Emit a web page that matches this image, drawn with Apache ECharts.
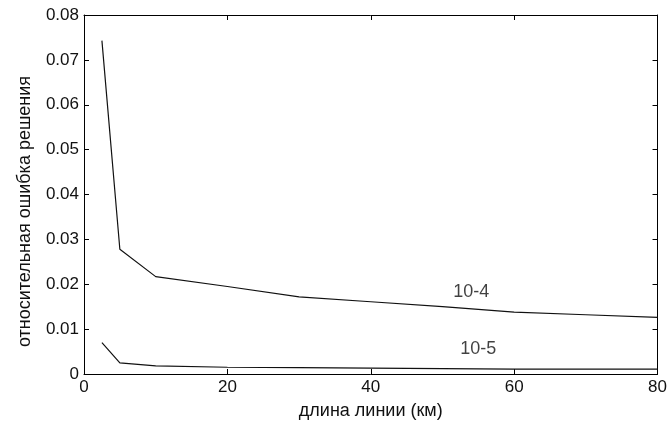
<!DOCTYPE html>
<html>
<head>
<meta charset="utf-8">
<script src="https://cdn.jsdelivr.net/npm/echarts@6/dist/echarts.min.js"></script>
<style>html,body{margin:0;padding:0;background:#fff}#c{width:670px;height:425px}</style>
</head>
<body>
<div id="c"></div>
<script>
const xValues = [2.5, 5, 10, 20, 30, 40, 50, 60, 70, 80];
const err1e4 = [0.0743, 0.0278, 0.0217, 0.0195, 0.0172, 0.0161, 0.0150, 0.0138, 0.0132, 0.0126];
const err1e5 = [0.0070, 0.0025, 0.0018, 0.0015, 0.0014, 0.0013, 0.0012, 0.0011, 0.0011, 0.0011];
const curveLabels = ['10-4', '10-5'];
const labelX = [54, 55];
const labelY = [0.0182, 0.0055];
const xTicks = [0, 20, 40, 60, 80];
const yTicks = ['0', '0.01', '0.02', '0.03', '0.04', '0.05', '0.06', '0.07', '0.08'];

const FONT = 'Liberation Sans, Arial, sans-serif';
const pair = (xs, ys) => xs.map((x, i) => [x, ys[i]]);

const axisLine = {show: true, onZero: false, lineStyle: {color: '#000', width: 1}};
const tick = {show: true, inside: true, length: 5, lineStyle: {color: '#000'}};

const chart = echarts.init(document.getElementById('c'), null, {renderer: 'canvas'});
chart.setOption({
  animation: false,
  backgroundColor: '#fff',
  grid: {left: 84, right: 12, top: 15, bottom: 48, show: false},
  xAxis: [{
    type: 'value', min: 0, max: 80, interval: 20, position: 'bottom',
    axisLine: axisLine, axisTick: tick, splitLine: {show: false},
    axisLabel: {color: '#111', fontSize: 17, fontFamily: FONT, margin: 5,
      formatter: v => xTicks.includes(v) ? String(v) : ''},
    name: 'длина линии (км)', nameLocation: 'middle', nameGap: 28,
    nameTextStyle: {color: '#111', fontSize: 18, fontFamily: FONT}
  }, {
    type: 'value', min: 0, max: 80, interval: 20, position: 'top',
    axisLine: axisLine, axisTick: tick, axisLabel: {show: false}, splitLine: {show: false}
  }],
  yAxis: [{
    type: 'value', min: 0, max: 0.08, interval: 0.01, position: 'left',
    axisLine: axisLine, axisTick: tick, splitLine: {show: false},
    axisLabel: {color: '#111', fontSize: 17, fontFamily: FONT, margin: 5,
      formatter: v => yTicks[Math.round(v * 100)]},
    name: 'относительная ошибка решения', nameLocation: 'middle', nameGap: 50,
    nameTextStyle: {color: '#111', fontSize: 18, fontFamily: FONT, padding: [0, 34, 0, 0]}
  }, {
    type: 'value', min: 0, max: 0.08, interval: 0.01, position: 'right',
    axisLine: axisLine, axisTick: tick, axisLabel: {show: false}, splitLine: {show: false}
  }],
  series: [{
    type: 'line', data: pair(xValues, err1e4), showSymbol: false, symbol: 'none',
    lineStyle: {color: '#111', width: 1.2}
  }, {
    type: 'line', data: pair(xValues, err1e5), showSymbol: false, symbol: 'none',
    lineStyle: {color: '#111', width: 1.2}
  }, {
    type: 'scatter', symbolSize: 0,
    data: curveLabels.map((t, i) => ({name: t, value: [labelX[i], labelY[i]]})),
    label: {show: true, position: 'inside', formatter: p => p.name,
      color: '#111', fontSize: 18, fontFamily: FONT}
  }]
});
</script>
</body>
</html>
